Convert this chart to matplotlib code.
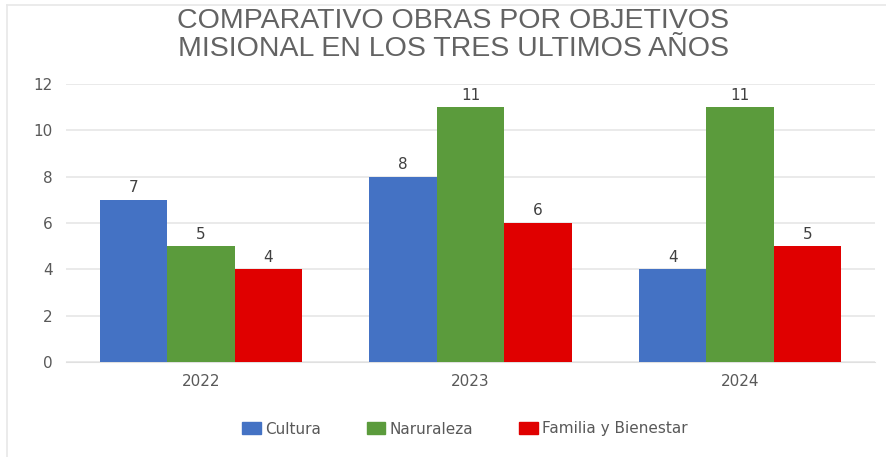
import matplotlib
matplotlib.use("Agg")
import matplotlib.pyplot as plt
import numpy as np
from matplotlib.lines import Line2D

years = ["2022", "2023", "2024"]
series_names = ["Cultura", "Naruraleza", "Familia y Bienestar"]
cultura = [7, 8, 4]
naturaleza = [5, 11, 11]
familia = [4, 6, 5]
colors = ["#4472C4", "#5B9B3C", "#E00000"]
yticks = [0, 2, 4, 6, 8, 10, 12]

fig = plt.figure(figsize=(8.86, 4.57), dpi=100)
ax = fig.add_axes([66/886, 1-362/457, (875-66)/886, (362-84)/457])

x = np.arange(len(years))
w = 0.25
grey = "#595959"
for i, (vals, name) in enumerate(zip([cultura, naturaleza, familia], series_names)):
    bars = ax.bar(x + (i-1)*w, vals, w, color=colors[i], label=name, zorder=3)
    for b, v in zip(bars, vals):
        ax.text(b.get_x()+b.get_width()/2, v + 0.2, str(v), ha="center", va="bottom",
                fontsize=11, color="#404040", family="DejaVu Sans")

ax.set_xlim(-0.5, 2.5)
ax.set_ylim(0, 12)
ax.set_yticks(yticks)
ax.set_xticks(x)
ax.set_xticklabels(years)
ax.yaxis.grid(True, color="#E6E6E6", linewidth=1.2, zorder=0)
ax.set_axisbelow(True)
for s in ax.spines.values():
    s.set_visible(False)
ax.spines["bottom"].set_visible(True)
ax.spines["bottom"].set_color("#E0E0E0")
ax.tick_params(axis="both", length=0, labelsize=11, colors=grey)
ax.tick_params(axis="y", pad=9.5)
ax.tick_params(axis="x", pad=9)

fig.text(453/886, 1-35/457, "COMPARATIVO OBRAS POR OBJETIVOS\nMISIONAL EN LOS TRES ULTIMOS AÑOS",
         ha="center", va="center", fontsize=20.5, color="#636363", family="Liberation Sans",
         linespacing=1.05)

handles = [plt.Rectangle((0, 0), 1, 1, color=c) for c in colors]
fig.legend(handles, series_names, loc="center", bbox_to_anchor=(465/886, 1-429/457),
           ncol=3, frameon=False, fontsize=11, labelcolor=grey,
           handlelength=1.2, handleheight=0.8, handletextpad=0.3, columnspacing=3.0)

fig.add_artist(Line2D([7/886, 7/886], [0, 1-5/457], transform=fig.transFigure, color="#E8E8E8", lw=1.2))
fig.add_artist(Line2D([7/886, 1], [1-5/457, 1-5/457], transform=fig.transFigure, color="#E8E8E8", lw=1.2))

fig.savefig("out.png", dpi=100)
